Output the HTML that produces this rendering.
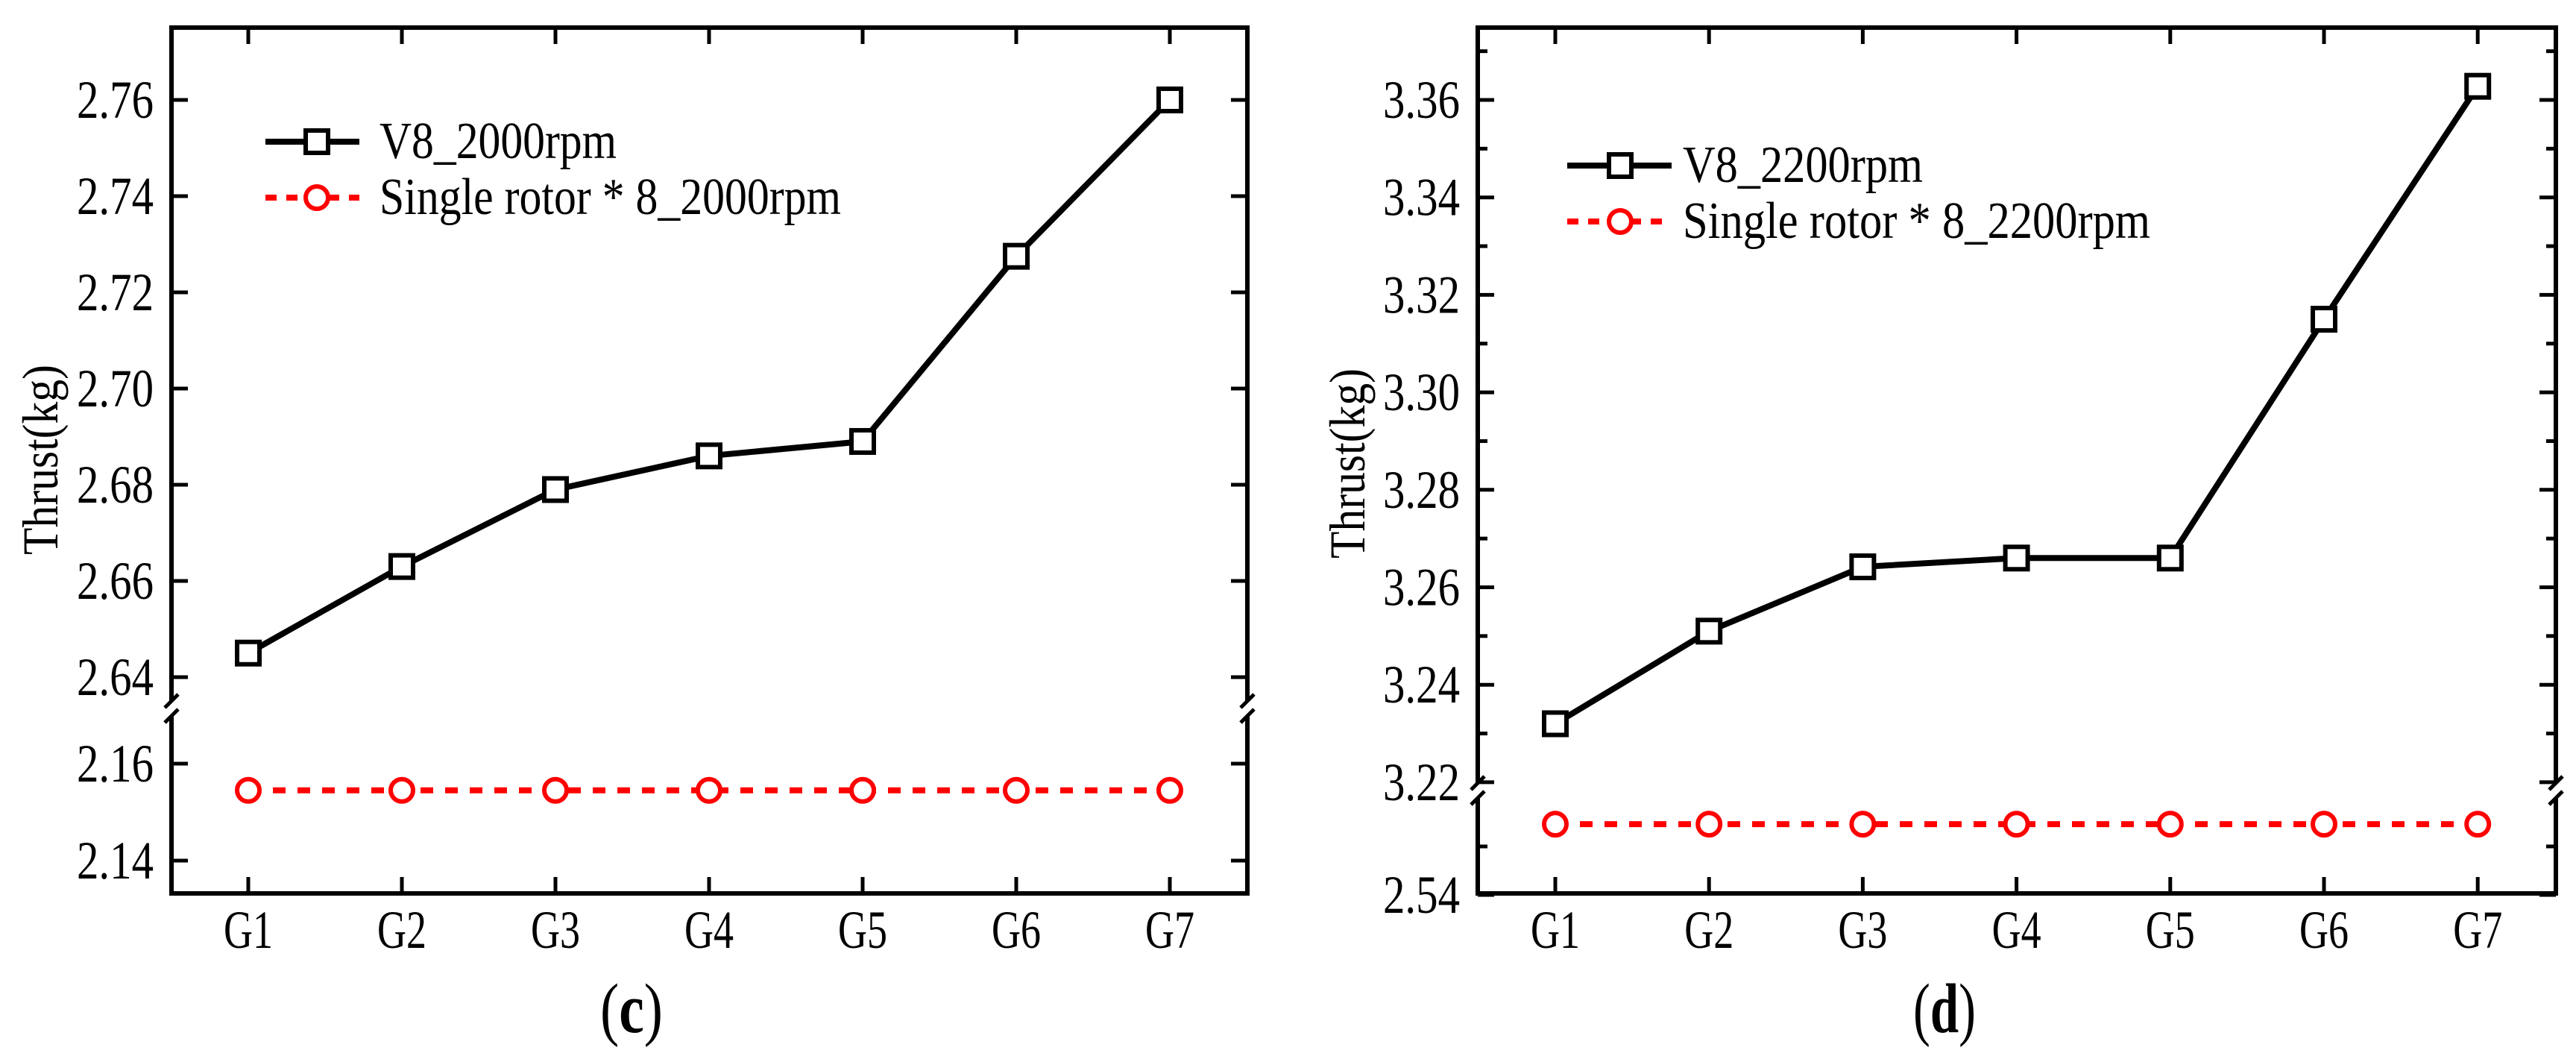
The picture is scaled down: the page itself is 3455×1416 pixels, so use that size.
<!DOCTYPE html>
<html><head><meta charset="utf-8"><style>
html,body{margin:0;padding:0;background:#fff}
svg{display:block}
text{font-family:"Liberation Serif","Times New Roman",Times,serif;fill:#000}
</style></head><body>
<svg id="c" width="3455" height="1416" viewBox="0 0 3455 1416" xmlns="http://www.w3.org/2000/svg"></svg>
<script>
const categories=["G1","G2","G3","G4","G5","G6","G7"];
const v8_2000=[2.645,2.663,2.679,2.686,2.689,2.7275,2.760];
const single_2000=[2.1545,2.1545,2.1545,2.1545,2.1545,2.1545,2.1545];
const upperTicksC=["2.64","2.66","2.68","2.70","2.72","2.74","2.76"];
const lowerTicksC=["2.14","2.16"];
const v8_2200=[3.232,3.251,3.2642,3.266,3.266,3.315,3.3628];
const single_2200=[2.5546,2.5546,2.5546,2.5546,2.5546,2.5546,2.5546];
const upperTicksD=["3.22","3.24","3.26","3.28","3.30","3.32","3.34","3.36"];
const lowerTicksD=["2.54"];

const NS="http://www.w3.org/2000/svg";
const svg=document.getElementById('c');
function mk(tag,attrs,parent){const e=document.createElementNS(NS,tag);for(const k in attrs)e.setAttribute(k,attrs[k]);(parent||svg).appendChild(e);return e;}
function fit(e,w){e.setAttribute('textLength',w);e.setAttribute('lengthAdjust','spacingAndGlyphs');}

function panel(cfg){
  const g=mk('g',{});
  
  
  const L=cfg.left,R=cfg.right,T=37,B=1198;
  const x=i=>cfg.x0+i*cfg.step;
  const yU=v=>cfg.uRef+(cfg.uVal-v)*cfg.uPx/0.02;
  const yL=v=>cfg.lRef+(cfg.lVal-v)*cfg.lPx/0.02;
  const ax=mk('path',{d:`M${L} ${cfg.brk-10} L${L} ${T} L${R} ${T} L${R} ${cfg.brk-10} M${L} ${cfg.brk+10} L${L} ${B} L${R} ${B} L${R} ${cfg.brk+10}`,fill:'none',stroke:'#000','stroke-width':6},g);
  
  
  [L,R].forEach(xx=>{[-10,10].forEach(dy=>{
    const s=mk('line',{x1:xx-9,y1:cfg.brk+dy+9,x2:xx+9,y2:cfg.brk+dy-9,stroke:'#000','stroke-width':5},g);
    
    
  });});
  function ytick(t,yy,ym){
    mk('line',{x1:L,y1:yy,x2:L+22,y2:yy,stroke:'#000','stroke-width':5},g);
    mk('line',{x1:R,y1:yy,x2:R-22,y2:yy,stroke:'#000','stroke-width':5},g);
    const tx=mk('text',{x:L-127,y:yy+24,'font-size':72},g);
    tx.textContent=t;fit(tx,103);
    
    
    if(cfg.minor&&ym>T+5){
      mk('line',{x1:L,y1:ym,x2:L+13,y2:ym,stroke:'#000','stroke-width':5},g);
      mk('line',{x1:R,y1:ym,x2:R-13,y2:ym,stroke:'#000','stroke-width':5},g);}
  }
  cfg.uTicks.forEach(t=>ytick(t,yU(parseFloat(t)),yU(parseFloat(t)+0.01)));
  cfg.lTicks.forEach(t=>ytick(t,yL(parseFloat(t)),yL(parseFloat(t)+0.01)));
  categories.forEach((c,i)=>{
    mk('line',{x1:x(i),y1:B,x2:x(i),y2:B-22,stroke:'#000','stroke-width':5},g);
    mk('line',{x1:x(i),y1:T,x2:x(i),y2:T+22,stroke:'#000','stroke-width':5},g);
    const tx=mk('text',{x:x(i)-33,y:1271,'font-size':72},g);
    tx.textContent=c;fit(tx,66);
    
    
  });
  const pv=cfg.v8.map((v,i)=>x(i)+','+yU(v)).join(' ');
  const l1=mk('polyline',{points:pv,fill:'none',stroke:'#000','stroke-width':8},g);
  
  
  const ps=cfg.single.map((v,i)=>x(i)+','+yL(v)).join(' ');
  const l2=mk('polyline',{points:ps,fill:'none',stroke:'#f00','stroke-width':8,'stroke-dasharray':'17 16'},g);
  
  
  cfg.v8.forEach((v,i)=>{
    const m=mk('rect',{x:x(i)-15,y:yU(v)-15,width:30,height:30,fill:'#fff',stroke:'#000','stroke-width':6},g);
    
    
  });
  cfg.single.forEach((v,i)=>{
    const m=mk('circle',{cx:x(i),cy:yL(v),r:15,fill:'#fff',stroke:'#f00','stroke-width':6},g);
    
    
  });
  const lg=mk('g',{},g);
  
  
  const [lx1,lx2,lsq,ltx,ly1,ly2,w1,w2]=cfg.leg;
  mk('line',{x1:lx1,y1:ly1,x2:lx2,y2:ly1,stroke:'#000','stroke-width':8},lg);
  mk('rect',{x:lsq-15,y:ly1-15,width:30,height:30,fill:'#fff',stroke:'#000','stroke-width':6},lg);
  const t1=mk('text',{x:ltx,y:ly1+22,'font-size':70},lg);t1.textContent=cfg.lab1;fit(t1,w1);
  
  
  mk('line',{x1:lx1,y1:ly2,x2:lx2,y2:ly2,stroke:'#f00','stroke-width':8,'stroke-dasharray':'15 13'},lg);
  mk('circle',{cx:lsq,cy:ly2,r:15,fill:'#fff',stroke:'#f00','stroke-width':6},lg);
  const t2=mk('text',{x:ltx,y:ly2+22,'font-size':70},lg);t2.textContent=cfg.lab2;fit(t2,w2);
  
  
  const yt=mk('text',{x:-127,y:0,'font-size':68,transform:`translate(${cfg.ytx},${cfg.yty}) rotate(-90)`},g);
  yt.textContent='Thrust(kg)';fit(yt,255);
  
  
  const pl=mk('text',{x:cfg.pcx-42,y:1384,'font-size':94},g);
  pl.innerHTML='(<tspan font-weight="bold">'+cfg.pl+'</tspan>)';fit(pl,84);
  
  
}
panel({id:'panel-c',left:230,right:1673,x0:333,step:206,brk:950,
  uRef:134,uVal:2.76,uPx:129,lRef:1024,lVal:2.16,lPx:130,
  uTicks:upperTicksC,lTicks:lowerTicksC,minor:false,v8:v8_2000,single:single_2000,
  leg:[356,482,425,509,190,265,318,619],lab1:'V8_2000rpm',lab2:'Single rotor * 8_2000rpm',
  ytx:77,yty:617,pcx:847,pl:'c'});
panel({id:'panel-d',left:1982,right:3428,x0:2086,step:206.2,brk:1060,
  uRef:134,uVal:3.36,uPx:130.7,lRef:1200,lVal:2.54,lPx:130,
  uTicks:upperTicksD,lTicks:lowerTicksD,minor:true,v8:v8_2200,single:single_2200,
  leg:[2102,2242,2173,2257,222,297,322,627],lab1:'V8_2200rpm',lab2:'Single rotor * 8_2200rpm',
  ytx:1830,yty:622,pcx:2608,pl:'d'});
</script>
</body></html>
